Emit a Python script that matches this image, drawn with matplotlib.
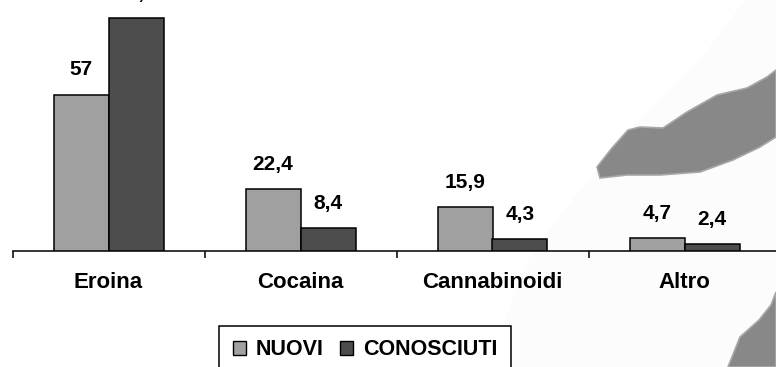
import matplotlib
matplotlib.use("Agg")
import matplotlib.pyplot as plt
from matplotlib.patches import Polygon, Patch
import numpy as np

categories = ["Eroina", "Cocaina", "Cannabinoidi", "Altro"]
nuovi = [57, 22.4, 15.9, 4.7]
conosciuti = [84.8, 8.4, 4.3, 2.4]
series_names = ["NUOVI", "CONOSCIUTI"]
value_labels_nuovi = ["57", "22,4", "15,9", "4,7"]
value_labels_conosciuti = ["84,8", "8,4", "4,3", "2,4"]

W, H = 776, 367
plt.rcParams["font.family"] = ["Liberation Sans", "DejaVu Sans"]
plt.rcParams["font.weight"] = "bold"

fig = plt.figure(figsize=(W / 100, H / 100), dpi=100)
fig.patch.set_facecolor("white")


def px(points):
    return [(x / W, 1 - y / H) for x, y in points]


# faint lighter wash and brush strokes in the background
wash = [(745, 0), (700, 60), (640, 120), (597, 170), (560, 215), (527, 262),
        (505, 320), (492, 367), (776, 367), (776, 0)]
fig.patches.append(Polygon(px(wash), closed=True, transform=fig.transFigure,
                           facecolor="#fcfcfc", edgecolor="none", zorder=0))
stroke1 = [(597, 167), (612, 148), (628, 130), (640, 127), (663, 128), (687, 112),
           (717, 95), (747, 88), (767, 77), (776, 70), (776, 137), (760, 147),
           (733, 160), (700, 172), (660, 175), (627, 175), (600, 178)]
fig.patches.append(Polygon(px(stroke1), closed=True, transform=fig.transFigure,
                           facecolor="#888888", edgecolor="#a8a8a8", linewidth=1.2, zorder=0.5))
stroke2 = [(728, 367), (740, 337), (759, 320), (771, 305), (776, 292), (776, 367)]
fig.patches.append(Polygon(px(stroke2), closed=True, transform=fig.transFigure,
                           facecolor="#888888", edgecolor="#a8a8a8", linewidth=1.2, zorder=0.5))

# plotting area: baseline at y=250.7px, groups 192px wide starting at x=12.5px
base_y = 250.7
scale = 2.74  # px per unit
ax = fig.add_axes([12.5 / W, 1 - base_y / H, 768 / W, base_y / H])
ax.set_facecolor("none")
ax.set_zorder(2)
ax.set_xlim(-0.5, len(categories) - 0.5)
ax.set_ylim(0, base_y / scale)

x = np.arange(len(categories))
bw = 55 / 192
b1 = ax.bar(x - bw / 2, nuovi, bw, color="#a0a0a0", edgecolor="black", linewidth=1.1, label=series_names[0], zorder=3)
b2 = ax.bar(x + bw / 2, conosciuti, bw, color="#4d4d4d", edgecolor="black", linewidth=1.1, label=series_names[1], zorder=3)

for rects, labels in ((b1, value_labels_nuovi), (b2, value_labels_conosciuti)):
    for r, lab in zip(rects, labels):
        ax.annotate(lab, (r.get_x() + r.get_width() / 2, r.get_height()),
                    xytext=(0, 13.7), textcoords="offset points",
                    ha="center", va="baseline", fontsize=15, fontweight="bold",
                    annotation_clip=False, zorder=4)

for s in ("top", "right", "left"):
    ax.spines[s].set_visible(False)
ax.spines["bottom"].set_linewidth(1.1)
ax.set_yticks([])
ax.set_xticks(x)
ax.set_xticklabels(categories, fontsize=16, fontweight="bold")
ax.tick_params(axis="x", which="major", length=0, pad=15.5)
ax.set_xticks(np.arange(-0.5, len(categories) + 0.5, 1), minor=True)
ax.tick_params(axis="x", which="minor", length=5, width=1.1, direction="out")

handles = [Patch(facecolor="#a0a0a0", edgecolor="black", linewidth=1.0),
           Patch(facecolor="#4d4d4d", edgecolor="black", linewidth=1.0)]
leg = fig.legend(handles, series_names, loc="upper center",
                 bbox_to_anchor=(365 / W, 1 - 326 / H), ncol=2,
                 frameon=True, fancybox=False, edgecolor="black",
                 prop={"size": 15.5, "weight": "bold"}, handlelength=0.62,
                 handleheight=0.62, handletextpad=0.45, columnspacing=0.75,
                 borderpad=0.62, borderaxespad=0)
leg.get_frame().set_linewidth(1.1)
leg.get_frame().set_alpha(None)
leg.get_frame().set_facecolor("white")
leg.set_zorder(3)

fig.savefig("out.png", dpi=100)
